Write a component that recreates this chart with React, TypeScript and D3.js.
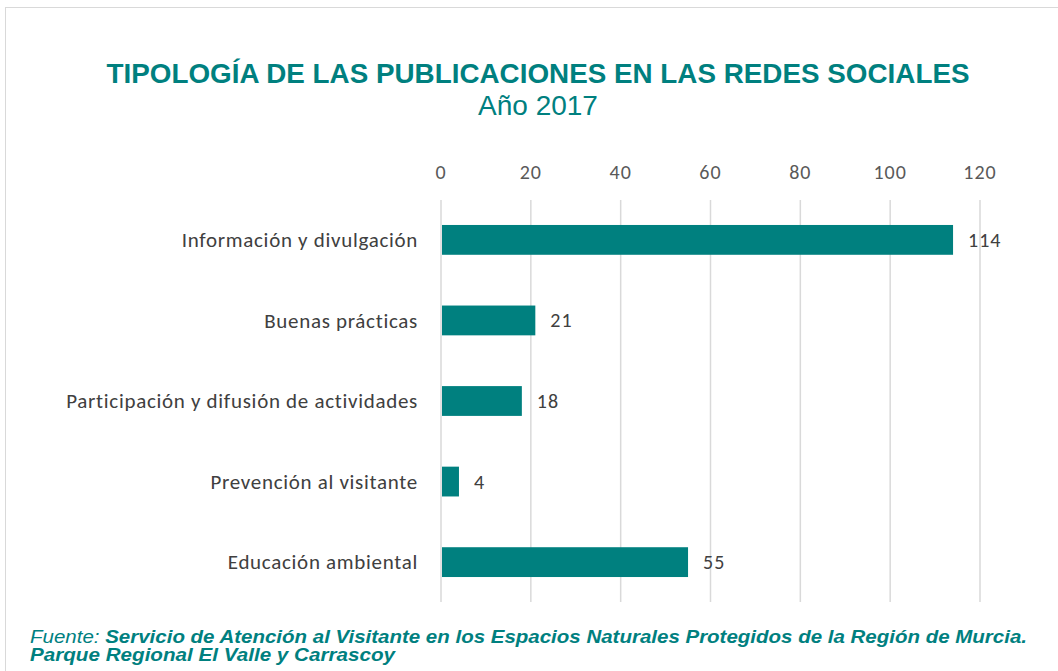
import { useEffect, useRef } from "react";
import * as d3 from "d3";

const categories = [
  "Información y divulgación",
  "Buenas prácticas",
  "Participación y difusión de actividades",
  "Prevención al visitante",
  "Educación ambiental",
];
const values = [114, 21, 18, 4, 55];
const ticks = [0, 20, 40, 60, 80, 100, 120];

const TEAL = "#00807f";
const LABEL_FONT = "Carlito, 'Open Sans', sans-serif";
const NARROW = "'Liberation Sans Narrow', 'Arial Narrow', sans-serif";

export default function App() {
  const ref = useRef<SVGSVGElement>(null);

  useEffect(() => {
    const svg = d3.select(ref.current);
    svg.selectAll("*").remove();

    const W = 1058;
    const H = 671;
    const margin = { top: 200, left: 441, right: 78, bottom: 69 };

    // chart frame
    svg
      .append("rect")
      .attr("x", 5.5)
      .attr("y", 7.5)
      .attr("width", W + 20)
      .attr("height", H + 20)
      .attr("fill", "white")
      .attr("stroke", "#d9d9d9");

    const x = d3
      .scaleLinear()
      .domain([0, 120])
      .range([margin.left, W - margin.right]);
    const y = d3
      .scaleBand()
      .domain(categories)
      .range([margin.top, H - margin.bottom])
      .paddingInner(0.63)
      .paddingOuter(0.31);

    // gridlines
    svg
      .append("g")
      .selectAll("line")
      .data(ticks)
      .join("line")
      .attr("x1", (d) => x(d))
      .attr("x2", (d) => x(d))
      .attr("y1", margin.top)
      .attr("y2", H - margin.bottom)
      .attr("stroke", "#d9d9d9")
      .attr("stroke-width", 1.5);

    // tick labels on top
    svg
      .append("g")
      .selectAll("text")
      .data(ticks)
      .join("text")
      .attr("x", (d) => x(d))
      .attr("y", 179)
      .attr("text-anchor", "middle")
      .attr("font-family", LABEL_FONT)
      .attr("font-size", 20)
      .attr("letter-spacing", 1)
      .attr("fill", "#595959")
      .text((d) => d);

    // bars
    svg
      .append("g")
      .selectAll("rect")
      .data(values)
      .join("rect")
      .attr("x", x(0) + 1)
      .attr("y", (_, i) => y(categories[i])!)
      .attr("width", (d) => x(d) - x(0) - 1)
      .attr("height", y.bandwidth())
      .attr("fill", TEAL);

    // value labels
    svg
      .append("g")
      .selectAll("text")
      .data(values)
      .join("text")
      .attr("x", (d) => x(d) + 15)
      .attr("y", (_, i) => y(categories[i])! + y.bandwidth() / 2)
      .attr("dy", "0.35em")
      .attr("font-family", LABEL_FONT)
      .attr("font-size", 20)
      .attr("letter-spacing", 1)
      .attr("fill", "#404040")
      .text((d) => d);

    // category labels
    svg
      .append("g")
      .selectAll("text")
      .data(categories)
      .join("text")
      .attr("x", 418)
      .attr("y", (d) => y(d)! + y.bandwidth() / 2)
      .attr("dy", "0.35em")
      .attr("text-anchor", "end")
      .attr("font-family", LABEL_FONT)
      .attr("font-size", 21)
      .attr("letter-spacing", 0.7)
      .attr("fill", "#404040")
      .text((d) => d);

    // title
    svg
      .append("text")
      .attr("x", 538)
      .attr("y", 83)
      .attr("text-anchor", "middle")
      .attr("font-family", NARROW)
      .attr("font-weight", "bold")
      .attr("font-size", 28)
      .attr("fill", TEAL)
      .attr("textLength", 863)
      .attr("lengthAdjust", "spacingAndGlyphs")
      .text("TIPOLOGÍA DE LAS PUBLICACIONES EN LAS REDES SOCIALES");
    svg
      .append("text")
      .attr("x", 538)
      .attr("y", 115)
      .attr("text-anchor", "middle")
      .attr("font-family", NARROW)
      .attr("font-size", 28)
      .attr("fill", TEAL)
      .text("Año 2017");

    // source
    const src = svg
      .append("text")
      .attr("x", 30)
      .attr("y", 643)
      .attr("font-family", NARROW)
      .attr("font-size", 18)
      .attr("font-style", "italic")
      .attr("fill", TEAL)
      .attr("textLength", 997)
      .attr("lengthAdjust", "spacingAndGlyphs");
    src.append("tspan").text("Fuente: ");
    src
      .append("tspan")
      .attr("font-weight", "bold")
      .text(
        "Servicio de Atención al Visitante en los Espacios Naturales Protegidos de la Región de Murcia."
      );
    svg
      .append("text")
      .attr("x", 30)
      .attr("y", 661)
      .attr("font-family", NARROW)
      .attr("font-size", 18)
      .attr("font-style", "italic")
      .attr("font-weight", "bold")
      .attr("fill", TEAL)
      .attr("textLength", 365)
      .attr("lengthAdjust", "spacingAndGlyphs")
      .text("Parque Regional El Valle y Carrascoy");
  }, []);

  return (
    <svg
      ref={ref}
      width={1058}
      height={671}
      style={{ position: "absolute", left: 0, top: 0, background: "white" }}
    />
  );
}
